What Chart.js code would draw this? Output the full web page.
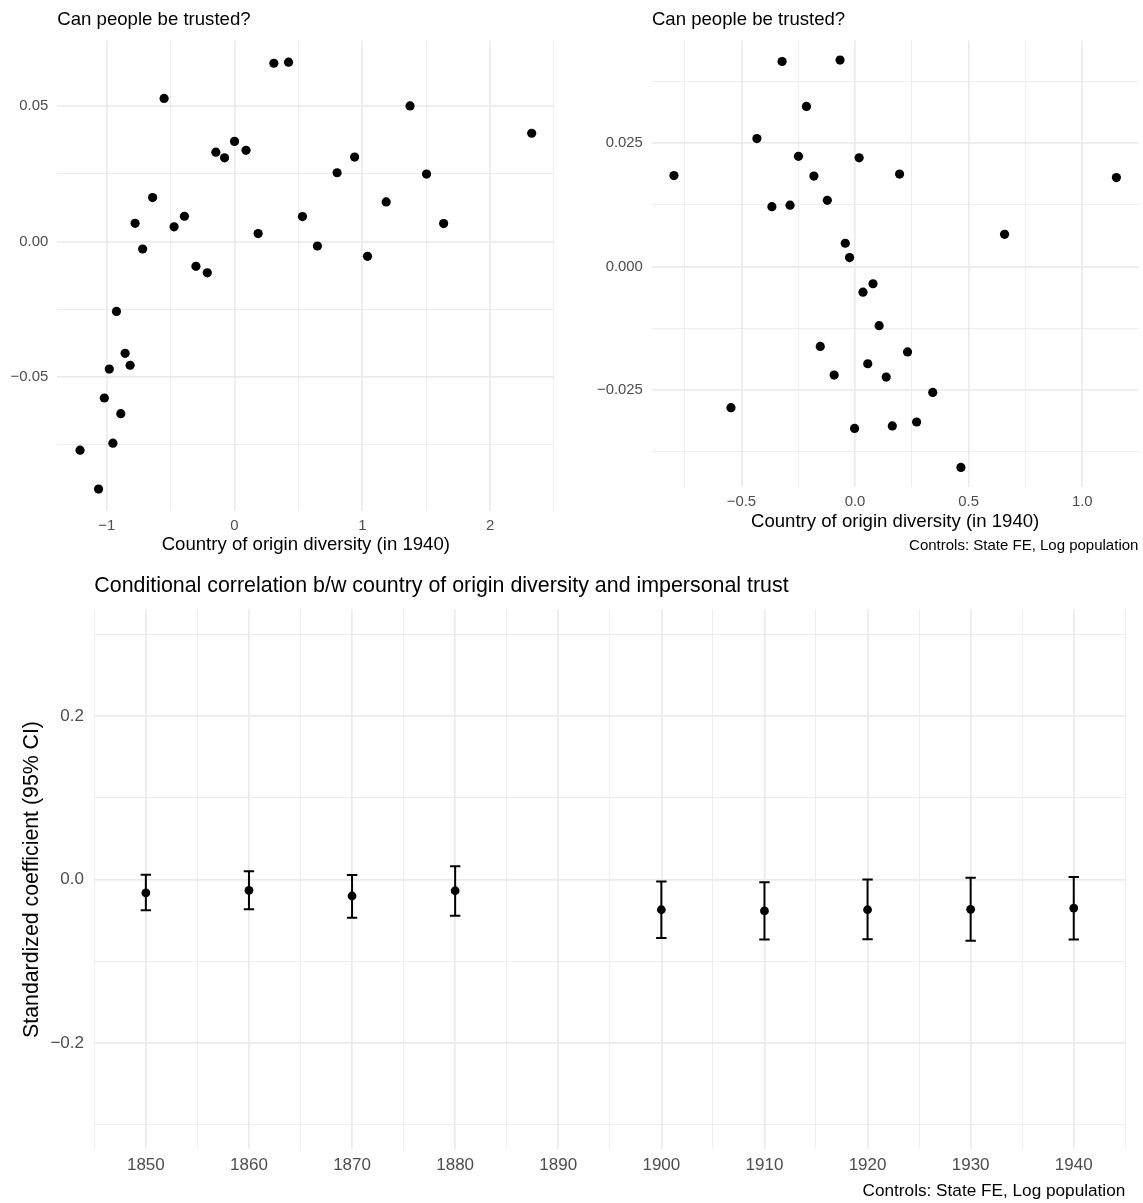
<!DOCTYPE html>
<html>
<head>
<meta charset="utf-8">
<title>Country of origin diversity and trust</title>
<script src="https://cdn.jsdelivr.net/npm/chart.js@4.4.1/dist/chart.umd.min.js"></script>
<style>
  html, body { margin: 0; padding: 0; background: #fff; }
  #wrap { position: relative; width: 1143px; height: 1203px; }
  #wrap canvas { position: absolute; }
</style>
</head>
<body>
<div id="wrap">
  <canvas id="chart-raw" width="570" height="560" style="left:0;top:0"></canvas>
  <canvas id="chart-cond" width="573" height="560" style="left:570px;top:0"></canvas>
  <canvas id="chart-coef" width="1143" height="643" style="left:0;top:560px"></canvas>
</div>
<script>
// top left: raw scatter
var rawX = [0.308, 0.423, -0.551, 1.374, 2.326, 0.000, -0.146, 0.090, -0.078, 0.940, 0.803, 1.503,
  -0.641, 1.187, -0.778, -0.392, 0.532, -0.473, 1.637, 0.185, -0.719, 0.649, 1.041, -0.302, -0.213,
  -0.924, -0.856, -0.817, -0.980, -1.019, -0.890, -0.952, -1.209, -1.064];
var rawY = [0.0659, 0.0663, 0.0529, 0.0501, 0.0400, 0.0370, 0.0330, 0.0337, 0.0309, 0.0312, 0.0254, 0.0249,
  0.0162, 0.0146, 0.0067, 0.0093, 0.0092, 0.0054, 0.0066, 0.0029, -0.0028, -0.0017, -0.0055, -0.0092, -0.0116,
  -0.0259, -0.0414, -0.0458, -0.0472, -0.0579, -0.0637, -0.0746, -0.0772, -0.0916];
var rawXTicks = [-1, 0, 1, 2];
var rawXLabels = ["\u22121", "0", "1", "2"];
var rawXMinor = [-0.5, 0.5, 1.5, 2.5];
var rawYTicks = [-0.05, 0, 0.05];
var rawYLabels = ["\u22120.05", "0.00", "0.05"];
var rawYMinor = [-0.075, -0.025, 0.025];

// top right: residualised scatter
var condX = [-0.321, -0.066, -0.214, -0.432, -0.249, 0.018, -0.797, -0.181, 0.196, 1.150, -0.122, -0.366,
  -0.286, 0.658, -0.043, -0.024, 0.079, 0.035, 0.106, -0.153, 0.231, 0.056, -0.092, 0.137, 0.342,
  -0.546, 0.271, 0.164, -0.002, 0.466];
var condY = [0.0415, 0.0418, 0.0324, 0.0259, 0.0223, 0.0220, 0.0184, 0.0183, 0.0187, 0.0180, 0.0134, 0.0121,
  0.0124, 0.0065, 0.0047, 0.0018, -0.0035, -0.0052, -0.0120, -0.0162, -0.0173, -0.0197, -0.0220, -0.0224,
  -0.0255, -0.0286, -0.0315, -0.0323, -0.0328, -0.0407];
var condXTicks = [-0.5, 0, 0.5, 1.0];
var condXLabels = ["\u22120.5", "0.0", "0.5", "1.0"];
var condXMinor = [-0.75, -0.25, 0.25, 0.75];
var condYTicks = [-0.025, 0, 0.025];
var condYLabels = ["\u22120.025", "0.000", "0.025"];
var condYMinor = [-0.0375, -0.0125, 0.0125, 0.0375];

// bottom: coefficient by census year
var years = [1850, 1860, 1870, 1880, 1900, 1910, 1920, 1930, 1940];
var coef = [-0.0163, -0.0133, -0.0202, -0.0138, -0.0370, -0.0385, -0.0370, -0.0365, -0.0350];
var ciLow = [-0.0375, -0.0365, -0.0469, -0.0444, -0.0715, -0.0735, -0.0730, -0.0750, -0.0735];
var ciHigh = [0.0058, 0.0099, 0.0054, 0.0163, -0.0025, -0.0035, 0.0000, 0.0020, 0.0030];
var yearTicks = [1850, 1860, 1870, 1880, 1890, 1900, 1910, 1920, 1930, 1940];
var yearLabels = ["1850", "1860", "1870", "1880", "1890", "1900", "1910", "1920", "1930", "1940"];
var yearMinor = [1845, 1855, 1865, 1875, 1885, 1895, 1905, 1915, 1925, 1935, 1945];
var coefYTicks = [-0.2, 0, 0.2];
var coefYLabels = ["\u22120.2", "0.0", "0.2"];
var coefYMinor = [-0.3, -0.1, 0.1, 0.3];

var FONT = "'Liberation Sans', Arial, Helvetica, sans-serif";
var GRID = "#EBEBEB";

function findTick(list, v) {
  for (var i = 0; i < list.length; i++) {
    if (Math.abs(list[i] - v) < 1e-9) return i;
  }
  return -1;
}

// linear axis with ggplot-like major + minor grid and a fixed size
function axis(o) {
  var all = o.majors.concat(o.minors).sort(function (a, b) { return a - b; });
  var cfg = {
    type: "linear",
    min: o.min,
    max: o.max,
    bounds: "data",
    afterBuildTicks: function (a) {
      a.ticks = all.map(function (v) { return { value: v }; });
    },
    afterFit: function (a) {
      if (o.width != null) a.width = o.width;
      if (o.height != null) a.height = o.height;
    },
    ticks: {
      autoSkip: false,
      maxRotation: 0,
      color: "#4D4D4D",
      padding: o.tickPad,
      font: { family: FONT, size: o.tickSize },
      callback: function (v) {
        var i = findTick(o.majors, v);
        return i < 0 ? "" : o.labels[i];
      },
    },
    grid: {
      drawTicks: false,
      color: GRID,
      lineWidth: function (c) {
        if (!c.tick) return 0;
        return findTick(o.majors, c.tick.value) < 0 ? 0.85 : 1.7;
      },
    },
    border: { display: false },
  };
  if (o.title) {
    cfg.title = {
      display: true,
      text: o.title,
      color: "#000",
      font: { family: FONT, size: o.titleSize },
      padding: o.titlePad,
    };
  }
  return cfg;
}

function points(xs, ys) {
  return xs.map(function (x, i) { return { x: x, y: ys[i] }; });
}

function titleOpts(text, size, pad) {
  return {
    display: true, text: text, align: "start", fullSize: false, color: "#000",
    font: { family: FONT, size: size, weight: "normal" }, padding: pad,
  };
}

function captionOpts(size, pad) {
  return {
    display: true, text: "Controls: State FE, Log population", position: "bottom",
    align: "end", fullSize: false, color: "#000",
    font: { family: FONT, size: size, weight: "normal" }, padding: pad,
  };
}

var common = {
  responsive: false,
  animation: false,
  devicePixelRatio: 1,
  events: [],
};

new Chart(document.getElementById("chart-raw"), {
  type: "scatter",
  data: {
    datasets: [{
      data: points(rawX, rawY),
      backgroundColor: "#000",
      borderWidth: 0,
      pointRadius: 4.6,
    }],
  },
  options: Object.assign({}, common, {
    layout: { padding: { left: 0, top: 0, right: 15.7, bottom: 0 } },
    plugins: {
      legend: { display: false },
      tooltip: { enabled: false },
      title: titleOpts("Can people be trusted?", 18.6, { top: 9, bottom: 9.2 }),
    },
    scales: {
      x: axis({ majors: rawXTicks, labels: rawXLabels, minors: rawXMinor, min: -1.387, max: 2.503,
        height: 49, tickPad: 6, tickSize: 14.9,
        title: "Country of origin diversity (in 1940)", titleSize: 18.6, titlePad: { top: 0, bottom: 3.8 } }),
      y: axis({ majors: rawYTicks, labels: rawYLabels, minors: rawYMinor, min: -0.0997, max: 0.0743,
        width: 57.3, tickPad: 9, tickSize: 14.9 }),
    },
  }),
});

new Chart(document.getElementById("chart-cond"), {
  type: "scatter",
  data: {
    datasets: [{
      data: points(condX, condY),
      backgroundColor: "#000",
      borderWidth: 0,
      pointRadius: 4.6,
    }],
  },
  options: Object.assign({}, common, {
    layout: { padding: { left: 0, top: 0, right: 2.8, bottom: 0 } },
    plugins: {
      legend: { display: false },
      tooltip: { enabled: false },
      title: titleOpts("Can people be trusted?", 18.6, { top: 9, bottom: 9.2 }),
      subtitle: captionOpts(15, { top: 2, bottom: 5 }),
    },
    scales: {
      x: axis({ majors: condXTicks, labels: condXLabels, minors: condXMinor, min: -0.894, max: 1.247,
        height: 48, tickPad: 6, tickSize: 14.9,
        title: "Country of origin diversity (in 1940)", titleSize: 18.6, titlePad: { top: 0, bottom: 1.8 } }),
      y: axis({ majors: condYTicks, labels: condYLabels, minors: condYMinor, min: -0.04466, max: 0.04575,
        width: 81.9, tickPad: 9, tickSize: 14.9 }),
    },
  }),
});

// one short line per year for the 95% interval
var whiskers = years.map(function (yr, i) {
  return {
    data: [{ x: yr, y: ciLow[i] }, { x: yr, y: ciHigh[i] }],
    showLine: true,
    borderColor: "#000",
    borderWidth: 2,
    pointRadius: 0,
  };
});

new Chart(document.getElementById("chart-coef"), {
  type: "scatter",
  data: {
    datasets: [
      {
        data: points(years, coef),
        backgroundColor: "#000",
        borderWidth: 0,
        pointRadius: 4.4,
      },
      {
        data: points(years, ciLow).concat(points(years, ciHigh)),
        pointStyle: "line",
        pointRadius: 5.2,
        borderColor: "#000",
        borderWidth: 2,
      },
    ].concat(whiskers),
  },
  options: Object.assign({}, common, {
    layout: { padding: { left: 0, top: 0, right: 17.7, bottom: 0 } },
    plugins: {
      legend: { display: false },
      tooltip: { enabled: false },
      title: titleOpts("Conditional correlation b/w country of origin diversity and impersonal trust", 21.4,
        { top: 13.2, bottom: 10.6 }),
      subtitle: captionOpts(17.2, { top: 3.4, bottom: 1 }),
    },
    scales: {
      x: axis({ majors: yearTicks, labels: yearLabels, minors: yearMinor, min: 1845, max: 1945,
        height: 28.5, tickPad: 5.8, tickSize: 17 }),
      y: axis({ majors: coefYTicks, labels: coefYLabels, minors: coefYMinor, min: -0.33, max: 0.33,
        width: 94.3, tickPad: 10.3, tickSize: 17,
        title: "Standardized coefficient (95% CI)", titleSize: 21.3, titlePad: { top: 19.7, bottom: 0 } }),
    },
  }),
});
</script>
</body>
</html>
